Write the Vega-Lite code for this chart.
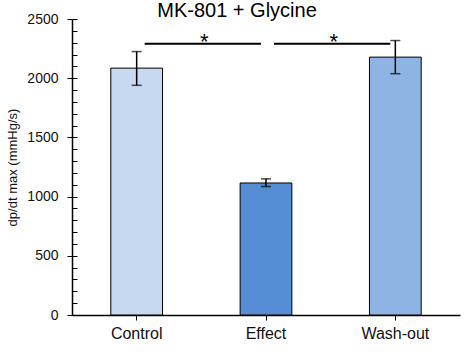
{
  "$schema": "https://vega.github.io/schema/vega-lite/v6.json",
  "width": 388,
  "height": 296,
  "autosize": "none",
  "padding": {"left": 72, "top": 19, "right": 15, "bottom": 40},
  "background": "white",
  "title": {
    "text": "MK-801 + Glycine",
    "font": "Liberation Sans",
    "fontSize": 20,
    "fontWeight": "normal",
    "color": "#000000",
    "anchor": "middle",
    "frame": "group",
    "dx": -29,
    "offset": -25,
    "baseline": "alphabetic"
  },
  "datasets": {
    "bars": [
      {"condition": "Control", "mean": 2085, "low": 1940, "high": 2225},
      {"condition": "Effect", "mean": 1115, "low": 1085, "high": 1150},
      {"condition": "Wash-out", "mean": 2178, "low": 2038, "high": 2318}
    ],
    "sig": [
      {"from": "Control", "to": "Effect", "y": 2290, "label": "*"},
      {"from": "Effect", "to": "Wash-out", "y": 2290, "label": "*"}
    ]
  },
  "config": {
    "font": "Liberation Sans",
    "view": {"stroke": null},
    "axis": {
      "labelFont": "Liberation Sans",
      "titleFont": "Liberation Sans",
      "labelColor": "#111111",
      "titleColor": "#111111",
      "domainColor": "#000000",
      "tickColor": "#000000",
      "grid": false,
      "titleFontWeight": "normal"
    }
  },
  "layer": [
    {
      "data": {"name": "bars"},
      "mark": {"type": "bar", "stroke": "#000000", "strokeWidth": 1, "width": {"band": 0.4}},
      "encoding": {
        "x": {
          "field": "condition",
          "type": "nominal",
          "sort": ["Control", "Effect", "Wash-out"],
          "scale": {"paddingInner": 0, "paddingOuter": 0},
          "axis": {
            "title": null,
            "labelAngle": 0,
            "labelFontSize": 16,
            "tickSize": 5,
            "labelPadding": 5,
            "domainWidth": 1.5
          }
        },
        "y": {
          "field": "mean",
          "type": "quantitative",
          "scale": {"domain": [0, 2500], "nice": false},
          "axis": {
            "title": "dp/dt max (mmHg/s)",
            "titleFontSize": 13,
            "titlePadding": 7,
            "format": "d",
            "values": [0, 500, 1000, 1500, 2000, 2500],
            "labelFontSize": 14,
            "tickSize": 5,
            "labelPadding": 9,
            "domainWidth": 1.5
          }
        },
        "color": {
          "field": "condition",
          "type": "nominal",
          "scale": {"domain": ["Control", "Effect", "Wash-out"], "range": ["#C6D9F1", "#558ED5", "#8EB4E3"]},
          "legend": null
        }
      }
    },
    {
      "data": {"name": "bars"},
      "mark": {"type": "errorbar", "ticks": {"size": 10, "thickness": 1.5, "color": "#000000"}, "rule": {"strokeWidth": 1.5, "color": "#000000"}},
      "encoding": {
        "x": {"field": "condition", "type": "nominal", "sort": ["Control", "Effect", "Wash-out"]},
        "y": {
          "field": "low",
          "type": "quantitative",
          "title": null,
          "axis": {
            "title": null,
            "labels": false,
            "domain": false,
            "values": [0, 100, 200, 300, 400, 500, 600, 700, 800, 900, 1000, 1100, 1200, 1300, 1400, 1500, 1600, 1700, 1800, 1900, 2000, 2100, 2200, 2300, 2400, 2500],
            "tickSize": -5,
            "orient": "left"
          }
        },
        "y2": {"field": "high"}
      }
    },
    {
      "data": {"name": "sig"},
      "layer": [
        {
          "mark": {"type": "rule", "color": "#000000", "strokeWidth": 2, "xOffset": 8, "x2Offset": -5},
          "encoding": {
            "x": {"field": "from", "type": "nominal", "sort": ["Control", "Effect", "Wash-out"]},
            "x2": {"field": "to"},
            "y": {"field": "y", "type": "quantitative", "axis": null}
          }
        },
        {
          "mark": {"type": "text", "fontSize": 22, "baseline": "alphabetic", "dy": 5, "dx": 3, "color": "#000000"},
          "encoding": {
            "x": {"field": "to", "type": "nominal", "sort": ["Control", "Effect", "Wash-out"], "bandPosition": 0},
            "y": {"field": "y", "type": "quantitative", "axis": null},
            "text": {"field": "label"}
          }
        }
      ],
      "resolve": {"axis": {"y": "shared"}},
      "encoding": {}
    }
  ],
  "resolve": {"axis": {"y": "independent"}}
}
